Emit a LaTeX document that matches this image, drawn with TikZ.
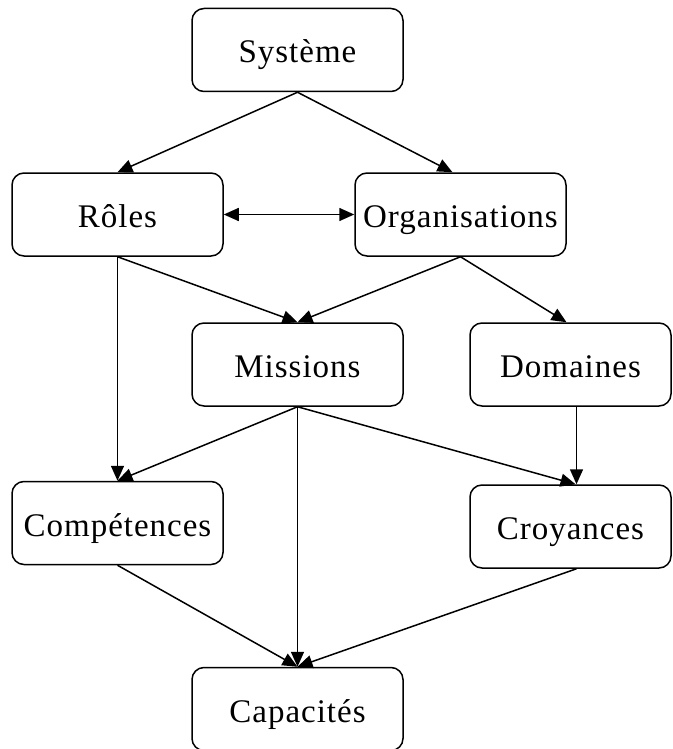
\documentclass[tikz,border=0pt]{standalone}
\usepackage{fontspec}
\setmainfont{Liberation Serif}
\newfontfamily\boxfont[LetterSpace=3]{Liberation Serif}
\usetikzlibrary{arrows.meta}
\begin{document}
\begin{tikzpicture}[x=1pt,y=-1pt,
  box/.style={draw, line width=1.5pt, rounded corners=12pt, minimum width=211pt,
    minimum height=83pt, inner sep=0pt, text height=26pt, text depth=0pt,
    font=\boxfont\fontsize{33}{40}\selectfont},
  narrowbox/.style={box, minimum width=201pt},
  link/.style={line width=1.5pt, -{Triangle[length=15pt,width=13pt]}},
  both/.style={line width=1.5pt, {Triangle[length=15pt,width=13pt]}-{Triangle[length=15pt,width=13pt]}}]
  \useasboundingbox (0,0) rectangle (672,749);
  % boxes
  \node[box] (sys) at (297.5,50) {Système};
  \node[box] (rol) at (117.5,214.5) {Rôles};
  \node[box] (org) at (460.5,214.5) {Organisations};
  \node[box] (mis) at (297.5,364.5) {Missions};
  \node[narrowbox] (dom) at (570.5,364.5) {Domaines};
  \node[box] (com) at (117.5,523) {Compétences};
  \node[narrowbox] (cro) at (570.5,526.5) {Croyances};
  \node[box] (cap) at (297.5,709) {Capacités};
  % connectors
  \draw[link] (sys.south) -- (rol.north);
  \draw[link] (sys.south) -- ([xshift=-8pt]org.north);
  \draw[both] (rol.east) -- (org.west);
  \draw[link] (rol.south) -- (mis.north);
  \draw[link] (rol.south) -- (com.north);
  \draw[link] (org.south) -- (mis.north);
  \draw[link] (org.south) -- ([xshift=-4pt]dom.north);
  \draw[link] (mis.south) -- (com.north);
  \draw[link] (mis.south) -- (cap.north);
  \draw[link] (mis.south) -- ([xshift=5pt]cro.north);
  \draw[link] ([xshift=6pt]dom.south) -- ([xshift=6pt]cro.north);
  \draw[link] (com.south) -- (cap.north);
  \draw[link] ([xshift=6pt]cro.south) -- (cap.north);
\end{tikzpicture}
\end{document}
